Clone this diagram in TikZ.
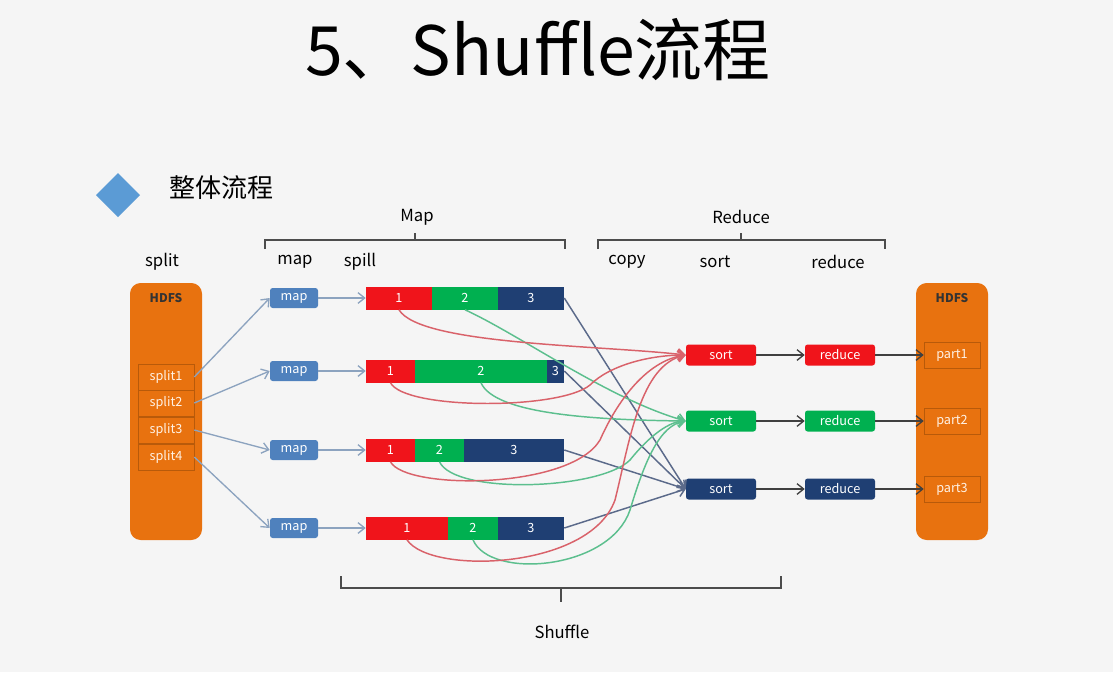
\documentclass[tikz,border=0pt]{standalone}
\usepackage{fontspec}
\setmainfont{Noto Sans CJK SC}
\usetikzlibrary{arrows.meta}
\definecolor{org}{HTML}{E8720F}
\definecolor{orgd}{HTML}{B85A0A}
\definecolor{mapc}{HTML}{4F81BD}
\definecolor{rd}{HTML}{F0141B}
\definecolor{gn}{HTML}{00B050}
\definecolor{bl}{HTML}{1F3F73}
\definecolor{rl}{HTML}{D9626A}
\definecolor{gl}{HTML}{5CBF8E}
\definecolor{bll}{HTML}{5B6A8A}
\definecolor{arr}{HTML}{8CA3BF}
\definecolor{dia}{HTML}{5B9BD5}
\tikzset{
 box/.style={draw=none,rounded corners=2pt,text=white,font=\fontsize{9.5}{10}\selectfont,inner sep=0pt},
 mapbox/.style={box,fill=mapc,minimum width={48*0.75pt},minimum height={20*0.75pt}},
 seg/.style={draw=none,fill=#1,text=white,font=\fontsize{9.5}{10}\selectfont,inner sep=0pt,minimum height={23*0.75pt}},
 opbox/.style={box,fill=#1,minimum width={70*0.75pt},minimum height={21*0.75pt}},
 cell/.style={draw=orgd,text=white!90!orange,font=\fontsize{9.5}{10}\selectfont,inner sep=0pt,minimum width={56*0.75pt},minimum height={26*0.75pt}},
 hdfs/.style={fill=org,rounded corners=8pt,draw=none},
 lab/.style={font=\fontsize{12.5}{14}\selectfont,text=black},
 sarr/.style={draw=arr,line width=1pt,-{Straight Barb[length=5pt,width=8pt]}},
 darr/.style={draw=black!75,line width=1pt,-{Straight Barb[length=5pt,width=8pt]}},
 rc/.style={draw=rl,line width=1.1pt,-{Straight Barb[length=5pt,width=8pt]}},
 gc/.style={draw=gl,line width=1.1pt,-{Straight Barb[length=5pt,width=8pt]}},
 bc/.style={draw=bll,line width=1.1pt,-{Straight Barb[length=5pt,width=8pt]}},
 brace/.style={draw=black!70,line width=0.9pt}
}
\begin{document}
\begin{tikzpicture}[x=0.75pt,y=-0.75pt]
\fill[white!96!black] (0,0) rectangle (1113,672);
\useasboundingbox (0,0) rectangle (1113,672);
\node[font=\fontsize{51}{56}\selectfont] (title) at (538,50) {5、Shuffle流程};
\fill[dia] (118,173) -- (140,195) -- (118,217) -- (96,195) -- cycle;
\node[anchor=west,font=\fontsize{19.5}{22}\selectfont] (sub) at (165,188) {整体流程};
% braces
\node[lab] (lmap) at (417,217) {Map};
\draw[brace] (265,249) -- (265,240) -- (565,240) -- (565,249);
\coordinate (mb) at (415,240); \coordinate (mbt) at (415,233);
\draw[brace] (mb) -- (mbt);
\node[lab] (lred) at (741,217) {Reduce};
\draw[brace] (598,249) -- (598,240) -- (885,240) -- (885,249);
\coordinate (rb) at (741,240); \coordinate (rbt) at (741,233);
\draw[brace] (rb) -- (rbt);
\draw[brace] (341,576) -- (341,588) -- (781,588) -- (781,576);
\coordinate (sb) at (561,588); \coordinate (sbt) at (561,602);
\draw[brace] (sb) -- (sbt);
\node[lab] (lshuf) at (562,632) {Shuffle};
% column labels
\node[lab] (c1) at (162,262) {split};
\node[lab] (c2) at (295,262) {map};
\node[lab] (c3) at (360,262) {spill};
\node[lab] (c4) at (627,262) {copy};
\node[lab] (c5) at (715,262) {sort};
\node[lab] (c6) at (838,262) {reduce};
% HDFS left
\fill[hdfs] (130,283) rectangle (202,540);
\node[font=\bfseries\fontsize{9}{10}\selectfont,text=black!80] (h1) at (166,298) {HDFS};
\node[cell] (s1) at (166,377) {split1};
\node[cell] (s2) at (166,403) {split2};
\node[cell] (s3) at (166,430) {split3};
\node[cell] (s4) at (166,457) {split4};
% HDFS right
\fill[hdfs] (916,283) rectangle (988,540);
\node[font=\bfseries\fontsize{9}{10}\selectfont,text=black!80] (h2) at (952,298) {HDFS};
\node[cell] (p1) at (952,355) {part1};
\node[cell] (p2) at (952,421) {part2};
\node[cell] (p3) at (952,489) {part3};
% maps
\node[mapbox] (m1) at (294,298) {map};
\node[mapbox] (m2) at (294,371) {map};
\node[mapbox] (m3) at (294,450) {map};
\node[mapbox] (m4) at (294,528) {map};
% spill bars
\node[seg=rd,minimum width={66*0.75pt}] (a1) at (399,298) {1};
\node[seg=gn,minimum width={66*0.75pt}] (a2) at (465,298) {2};
\node[seg=bl,minimum width={66*0.75pt}] (a3) at (531,298) {3};
\node[seg=rd,minimum width={49*0.75pt}] (b1) at (390.5,371) {1};
\node[seg=gn,minimum width={132*0.75pt}] (b2) at (481,371) {2};
\node[seg=bl,minimum width={17*0.75pt}] (b3) at (555.5,371) {3};
\node[seg=rd,minimum width={49*0.75pt}] (d1) at (390.5,450) {1};
\node[seg=gn,minimum width={49*0.75pt}] (d2) at (439.5,450) {2};
\node[seg=bl,minimum width={100*0.75pt}] (d3) at (514,450) {3};
\node[seg=rd,minimum width={82*0.75pt}] (e1) at (407,528) {1};
\node[seg=gn,minimum width={50*0.75pt}] (e2) at (473,528) {2};
\node[seg=bl,minimum width={66*0.75pt}] (e3) at (531,528) {3};
% sort / reduce
\node[opbox=rd] (o1) at (721,355) {sort};
\node[opbox=gn] (o2) at (721,421) {sort};
\node[opbox=bl] (o3) at (721,489) {sort};
\node[opbox=rd] (r1) at (840,355) {reduce};
\node[opbox=gn] (r2) at (840,421) {reduce};
\node[opbox=bl] (r3) at (840,489) {reduce};
% split -> map
\draw[sarr] (s1.east) -- (m1.west);
\draw[sarr] (s2.east) -- (m2.west);
\draw[sarr] (s3.east) -- (m3.west);
\draw[sarr] (s4.east) -- (m4.west);
\draw[sarr] (m1.east) -- (a1.west);
\draw[sarr] (m2.east) -- (b1.west);
\draw[sarr] (m3.east) -- (d1.west);
\draw[sarr] (m4.east) -- (e1.west);
% blue lines
\draw[bc] (a3.east) -- (o3.west);
\draw[bc] (b3.east) -- (o3.west);
\draw[bc] (d3.east) -- (o3.west);
\draw[bc] (e3.east) -- (o3.west);
% green curves
\draw[gc] (a2.south) .. controls (520,335) and (610,400) .. (o2.west);
\draw[gc] (b2.south) .. controls (495,415) and (600,420) .. (o2.west);
\draw[gc] (d2.south) .. controls (455,495) and (600,490) .. (630,460) .. controls (650,435) and (670,421) .. (o2.west);
\draw[gc] (e2.south) .. controls (490,580) and (610,570) .. (630,510) .. controls (645,460) and (660,425) .. (o2.west);
% red curves
\draw[rc] (a1.south) .. controls (420,345) and (600,345) .. (o1.west);
\draw[rc] (b1.south) .. controls (405,410) and (560,410) .. (590,385) .. controls (610,365) and (650,355) .. (o1.west);
\draw[rc] (d1.south) .. controls (405,490) and (570,490) .. (600,440) .. controls (620,395) and (650,360) .. (o1.west);
\draw[rc] (e1.south) .. controls (430,575) and (590,570) .. (615,500) .. controls (630,440) and (640,365) .. (o1.west);
% sort -> reduce -> part
\draw[darr] (o1.east) -- (r1.west);
\draw[darr] (o2.east) -- (r2.west);
\draw[darr] (o3.east) -- (r3.west);
\draw[darr] (r1.east) -- (p1.west);
\draw[darr] (r2.east) -- (p2.west);
\draw[darr] (r3.east) -- (p3.west);
\end{tikzpicture}
\end{document}
